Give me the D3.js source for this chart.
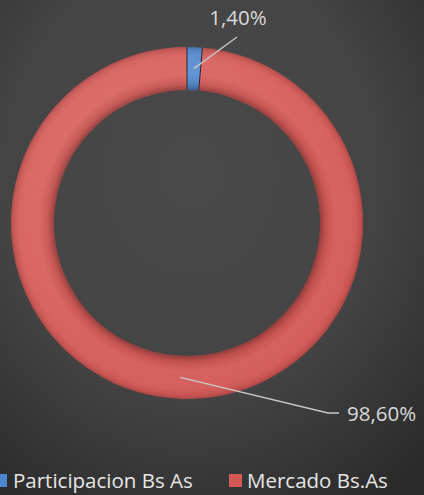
<!DOCTYPE html>
<meta charset="utf-8">
<style>
body { margin: 0; background: #444; }
svg { display: block; font-family: "Open Sans", sans-serif; }
.lbl { fill: #d9d9d9; font-size: 20.5px; }
.leader { stroke: #c8c8c8; stroke-width: 1.3; fill: none; }
.legend text { fill: #e6e6e6; font-size: 20.5px; }
</style>
<body>
<script src="https://cdnjs.cloudflare.com/ajax/libs/d3/7.8.5/d3.min.js"></script>
<script>
var categories = ["Participacion Bs As", "Mercado Bs.As"];
var values = [1.40, 98.60];
var labels = ["1,40%", "98,60%"];
var colors = ["#4f86d0", "#d65855"];

var width = 424, height = 495;
var cx = 187, cy = 223, rOut = 176, rIn = 133;

var svg = d3.select("body").append("svg")
	.attr("width", width)
	.attr("height", height);

var defs = svg.append("defs");

// background
var bg = defs.append("radialGradient").attr("id", "bg")
	.attr("cx", "45%").attr("cy", "35%").attr("r", "80%");
bg.append("stop").attr("offset", "0%").attr("stop-color", "#4a4a4a");
bg.append("stop").attr("offset", "55%").attr("stop-color", "#444");
bg.append("stop").attr("offset", "100%").attr("stop-color", "#2a2a2a");
svg.append("rect").attr("width", width).attr("height", height).attr("fill", "url(#bg)");

// bevel across ring thickness (user space of the translated group)
var bev = defs.append("radialGradient").attr("id", "bevel")
	.attr("gradientUnits", "userSpaceOnUse")
	.attr("cx", 0).attr("cy", 0).attr("r", rOut);
var k = rIn / rOut;
[[k, "#000", 0.3], [k + 0.035, "#000", 0.08], [k + 0.09, "#fff", 0.06],
 [0.94, "#fff", 0.04], [0.985, "#000", 0.08], [1, "#000", 0.2]].forEach(function(s) {
	bev.append("stop").attr("offset", s[0]).attr("stop-color", s[1]).attr("stop-opacity", s[2]);
});

// light from top-left
var lit = defs.append("linearGradient").attr("id", "lit")
	.attr("gradientUnits", "userSpaceOnUse")
	.attr("x1", -rOut).attr("y1", -rOut).attr("x2", rOut * 0.6).attr("y2", rOut);
lit.append("stop").attr("offset", "0%").attr("stop-color", "#fff").attr("stop-opacity", 0.1);
lit.append("stop").attr("offset", "50%").attr("stop-color", "#fff").attr("stop-opacity", 0.03);
lit.append("stop").attr("offset", "100%").attr("stop-color", "#000").attr("stop-opacity", 0.02);

var pie = d3.pie().sort(null).value(function(d) { return d; });
var arc = d3.arc().innerRadius(rIn).outerRadius(rOut);
var arcs = pie(values);

var g = svg.append("g").attr("transform", "translate(" + cx + "," + cy + ")");

g.selectAll("path.slice")
	.data(arcs)
	.enter().append("path")
	.attr("class", "slice")
	.attr("d", arc)
	.attr("fill", function(d, i) { return colors[i]; });

var ring = d3.arc().innerRadius(rIn).outerRadius(rOut).startAngle(0).endAngle(2 * Math.PI);
g.append("path").attr("d", ring()).attr("fill", "url(#lit)");
g.append("path").attr("d", ring()).attr("fill", "url(#bevel)");

// dark seams between slices
g.selectAll("line.seam")
	.data(arcs)
	.enter().append("line")
	.attr("x1", function(d) { return rIn * Math.sin(d.startAngle); })
	.attr("y1", function(d) { return -rIn * Math.cos(d.startAngle); })
	.attr("x2", function(d) { return rOut * Math.sin(d.startAngle); })
	.attr("y2", function(d) { return -rOut * Math.cos(d.startAngle); })
	.attr("stroke", "#2a2a2a")
	.attr("stroke-width", 1);

// labels with leaders
var labelPos = [[238, 25], [347, 421]];
var leaderEnd = [[[237, 37]], [[328, 413], [339, 413]]];
arcs.forEach(function(d, i) {
	var c = arc.centroid(d);
	var pts = [[cx + c[0], cy + c[1]]].concat(leaderEnd[i]);
	svg.append("path").attr("class", "leader").attr("d", d3.line()(pts));
	svg.append("text").attr("class", "lbl")
		.attr("x", labelPos[i][0]).attr("y", labelPos[i][1])
		.attr("text-anchor", i === 0 ? "middle" : "start")
		.text(labels[i]);
});

// legend
var legend = svg.append("g").attr("class", "legend");
var legX = [0, 229];
categories.forEach(function(c, i) {
	var lg = legend.append("g").attr("transform", "translate(" + legX[i] + ",474)");
	lg.append("rect").attr("x", i === 0 ? -6 : 0).attr("width", 13).attr("height", 13)
		.attr("fill", colors[i]);
	lg.append("text").attr("x", i === 0 ? 13 : 18).attr("y", 14).text(c);
});
</script>
</body>
